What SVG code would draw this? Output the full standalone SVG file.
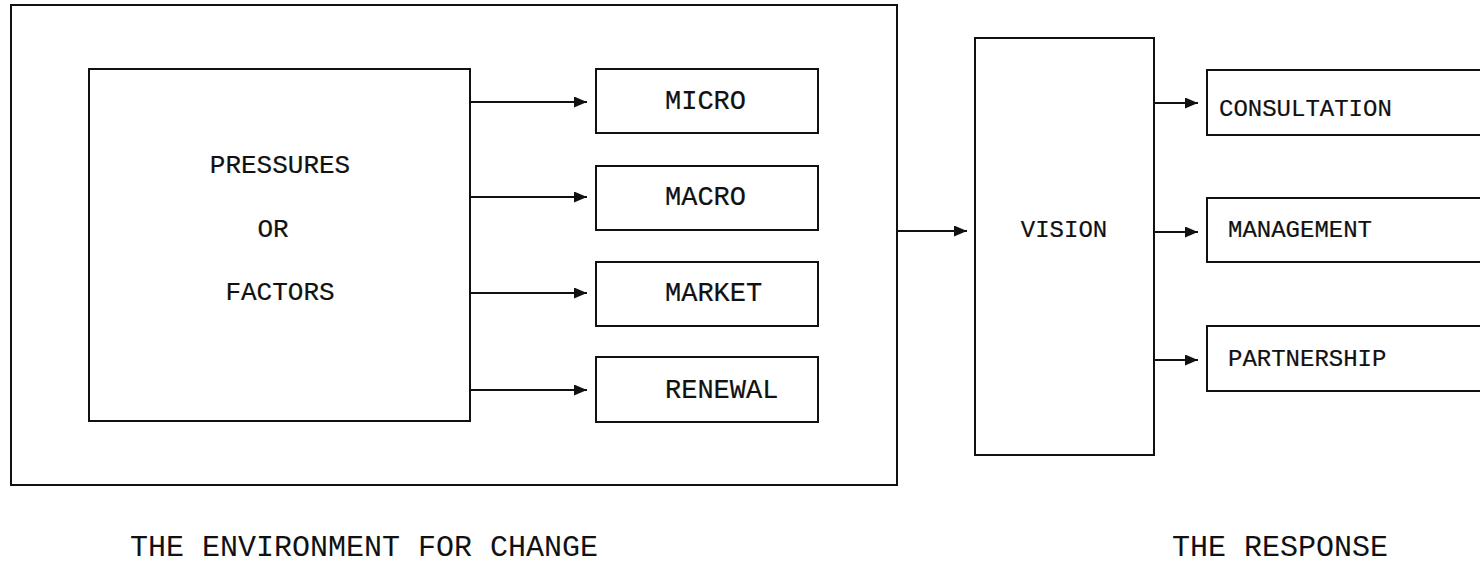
<svg xmlns="http://www.w3.org/2000/svg" width="1480" height="565" viewBox="0 0 1480 565">
<style>
.box{fill:none;stroke:#111;stroke-width:2}
.lbl{font-family:"Liberation Mono","Courier New",monospace;fill:#111;stroke:#111;stroke-width:0.2}
.cap{font-family:"Liberation Mono","Courier New",monospace;fill:#111;font-size:30px}
.conn{stroke:#111;stroke-width:2;fill:none}
</style>
<defs>
<marker id="arr" markerUnits="userSpaceOnUse" markerWidth="14" markerHeight="12" refX="13" refY="5.5" orient="auto">
<path d="M0,0 L13,5.5 L0,11 z" fill="#111"/>
</marker>
</defs>
<rect width="1480" height="565" fill="#fff"/>
<g id="environment">
<rect class="box" x="11" y="5" width="886" height="480"/>
</g>
<g id="pressures">
<rect class="box" x="89" y="69" width="381" height="352"/>
<text class="lbl" font-size="26" x="280" y="173" text-anchor="middle">PRESSURES</text>
<text class="lbl" font-size="26" x="273" y="237" text-anchor="middle">OR</text>
<text class="lbl" font-size="26" x="280" y="300" text-anchor="middle">FACTORS</text>
</g>
<g id="micro">
<rect class="box" x="596" y="69" width="222" height="64"/>
<text class="lbl" font-size="27" x="665" y="109">MICRO</text>
</g>
<g id="macro">
<rect class="box" x="596" y="166" width="222" height="64"/>
<text class="lbl" font-size="27" x="665" y="205">MACRO</text>
</g>
<g id="market">
<rect class="box" x="596" y="262" width="222" height="64"/>
<text class="lbl" font-size="27" x="665" y="301">MARKET</text>
</g>
<g id="renewal">
<rect class="box" x="596" y="357" width="222" height="65"/>
<text class="lbl" font-size="27" x="665" y="398">RENEWAL</text>
</g>
<g id="vision">
<rect class="box" x="975" y="38" width="179" height="417"/>
<text class="lbl" font-size="24" x="1064" y="237" text-anchor="middle">VISION</text>
</g>
<g id="consultation">
<rect class="box" x="1207" y="70" width="290" height="65"/>
<text class="lbl" font-size="24" x="1219" y="116">CONSULTATION</text>
</g>
<g id="management">
<rect class="box" x="1207" y="198" width="290" height="64"/>
<text class="lbl" font-size="24" x="1228" y="237">MANAGEMENT</text>
</g>
<g id="partnership">
<rect class="box" x="1207" y="326" width="290" height="65"/>
<text class="lbl" font-size="24" x="1228" y="366">PARTNERSHIP</text>
</g>
<g id="captions">
<text class="cap" x="130" y="556">THE ENVIRONMENT FOR CHANGE</text>
<text class="cap" x="1172" y="556">THE RESPONSE</text>
</g>
<g id="connectors">
<line class="conn" x1="470" y1="102" x2="587" y2="102" marker-end="url(#arr)"/>
<line class="conn" x1="470" y1="197" x2="587" y2="197" marker-end="url(#arr)"/>
<line class="conn" x1="470" y1="293" x2="587" y2="293" marker-end="url(#arr)"/>
<line class="conn" x1="470" y1="390" x2="587" y2="390" marker-end="url(#arr)"/>
<line class="conn" x1="897" y1="231" x2="967" y2="231" marker-end="url(#arr)"/>
<line class="conn" x1="1154" y1="103" x2="1198" y2="103" marker-end="url(#arr)"/>
<line class="conn" x1="1154" y1="232" x2="1198" y2="232" marker-end="url(#arr)"/>
<line class="conn" x1="1154" y1="360" x2="1198" y2="360" marker-end="url(#arr)"/>
</g>
</svg>
